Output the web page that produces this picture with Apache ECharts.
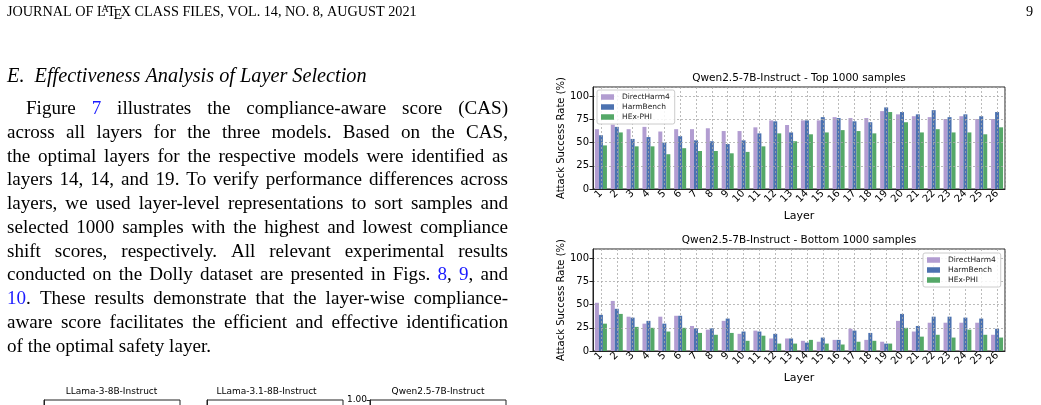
<!DOCTYPE html>
<html>
<head>
<meta charset="utf-8">
<script src="https://cdn.jsdelivr.net/npm/echarts@6/dist/echarts.min.js"></script>
<style>
html, body { margin: 0; padding: 0; background: #fff; }
#main { width: 1041px; height: 405px; }
</style>
</head>
<body>
<div id="main"></div>
<script>
// layers on the x axis
var layers = ['1','2','3','4','5','6','7','8','9','10','11','12','13',
              '14','15','16','17','18','19','20','21','22','23','24','25','26'];
var seriesNames = ['DirectHarm4', 'HarmBench', 'HEx-PHI'];
var yTicks = [0, 25, 50, 75, 100];

// Top 1000 samples (ASR %)
var topDirectHarm = [64.5,69.5,64.5,67,62,64.5,64.5,65.5,62.5,62.5,66.5,74,69,74,74,77.5,76.5,76.5,84,80.5,78.5,77.5,75.5,78.5,75.5,75.5];
var topHarmBench  = [58,67,54,56,50,57,52.5,51.5,48.5,52.5,60,73,61,74,77.5,76.5,73,72,88,83,80.5,85,77.5,80.5,78.5,83];
var topHexPhi     = [47,61,46,46,37.5,44,41,41,38.5,40,46,60,51.5,59,61,63.5,62.5,60,83,72,61,64.5,61,61,59,66.5];

// Bottom 1000 samples (ASR %)
var botDirectHarm = [52,54,37,29.5,37,38,27,23,32.5,18.5,22,13.5,13.5,11,10,12,24,12,10,32.5,21,30.5,30.5,30.5,30.5,17.5];
var botHarmBench  = [39,45.5,36,32.5,29.5,38,24.5,24.5,35,21,21,18.5,13.5,9,14.5,12,22,19.5,8,40,27,37,37,36,35,24];
var botHexPhi     = [29.5,40,26,25,21,25,19.5,17.5,19.5,11,16.5,8,8,12,8,7,10,11,8,25,15.5,17.5,14.5,23,17.5,14.5];

var bodyLines = [
  'Figure [7] illustrates the compliance-aware score (CAS)',
  'across all layers for the three models. Based on the CAS,',
  'the optimal layers for the respective models were identified as',
  'layers 14, 14, and 19. To verify performance differences across',
  'layers, we used layer-level representations to sort samples and',
  'selected 1000 samples with the highest and lowest compliance',
  'shift scores, respectively. All relevant experimental results',
  'conducted on the Dolly dataset are presented in Figs. [8], [9], and',
  '[10]. These results demonstrate that the layer-wise compliance-',
  'aware score facilitates the efficient and effective identification',
  'of the optimal safety layer.'
];
var sectionTitle = 'E.  Effectiveness Analysis of Layer Selection';
var smallTitles = ['LLama-3-8B-Instruct', 'LLama-3.1-8B-Instruct', 'Qwen2.5-7B-Instruct'];

var colors = ['#b29dd1', '#4c72b0', '#55a868'];
var sans = 'DejaVu Sans';
var serif = 'Liberation Serif';
var gridLine = { show: true, lineStyle: { color: '#aaa', width: 0.8, type: [2, 2] } };

var ctx = document.createElement('canvas').getContext('2d');
function measure(t, size, style) {
    ctx.font = (style || 'normal') + ' ' + size + 'px "' + serif + '"';
    return ctx.measureText(t).width;
}
function plain(w) { return w.replace(/\[|\]/g, ''); }
function txt(x, y, text, st) {
    return {
        type: 'text', x: x, y: y, silent: true, z: 20,
        style: Object.assign({ text: text, fill: '#000', fontFamily: sans, fontSize: 10,
            align: 'left', verticalAlign: 'middle' }, st || {})
    };
}

var graphics = [];

// page header with a LaTeX logo
var hs = 16;
var h1 = 'JOURNAL OF L', h2 = 'X CLASS FILES, VOL. 14, NO. 8, AUGUST 2021';
var hw = measure(h1, hs) - 0.3 * hs + measure('A', hs * 0.7) - 0.12 * hs + measure('T', hs)
         - 0.15 * hs + measure('E', hs) - 0.1 * hs + measure(h2, hs);
hs = hs * 410 / hw;
var hx = 7, hy = 12;
var hst = { fontFamily: serif, fontSize: hs };
graphics.push(txt(hx, hy, h1, hst));
hx += measure(h1, hs) - 0.3 * hs;
graphics.push(txt(hx, hy - hs * 0.15, 'A', { fontFamily: serif, fontSize: hs * 0.7 }));
hx += measure('A', hs * 0.7) - 0.12 * hs;
graphics.push(txt(hx, hy, 'T', hst));
hx += measure('T', hs) - 0.15 * hs;
graphics.push(txt(hx, hy + hs * 0.22, 'E', hst));
hx += measure('E', hs) - 0.1 * hs;
graphics.push(txt(hx, hy, h2, hst));
graphics.push(txt(1033, hy, '9', { fontFamily: serif, fontSize: hs, align: 'right' }));

// section heading
var secSize = 20 * 360 / measure(sectionTitle, 20, 'italic');
graphics.push(txt(7, 77, sectionTitle, { fontFamily: serif, fontSize: secSize, fontStyle: 'italic' }));

// justified body text: largest size where every line still fits with normal spaces
var bodySize = 20 * 220 / measure(bodyLines[10], 20);
bodyLines.forEach(function (line, i) {
    if (i === bodyLines.length - 1) return;
    var avail = 508 - (i === 0 ? 26 : 7);
    var natural = measure(plain(line), 20) * 1.04;
    bodySize = Math.min(bodySize, 20 * avail / natural);
});
bodyLines.forEach(function (line, i) {
    var y = 109 + i * 23.77;
    var x = i === 0 ? 26 : 7;
    var words = line.split(' ');
    var widths = words.map(function (w) { return measure(plain(w), bodySize); });
    var sum = widths.reduce(function (a, b) { return a + b; }, 0);
    var gap = i === bodyLines.length - 1 ? measure(' ', bodySize) : (508 - x - sum) / (words.length - 1);
    words.forEach(function (w, k) {
        graphics.push(txt(x, y, w.replace(/\[([^\]]+)\]/g, '{lnk|$1}'), {
            fontFamily: serif, fontSize: bodySize,
            rich: { lnk: { fill: '#1a1aff', fontFamily: serif, fontSize: bodySize } }
        }));
        x += widths[k] + gap;
    });
});

// chart titles
graphics.push(txt(799, 78, 'Qwen2.5-7B-Instruct - Top 1000 samples', { fontSize: 10.5, align: 'center' }));
graphics.push(txt(799, 240, 'Qwen2.5-7B-Instruct - Bottom 1000 samples', { fontSize: 10.5, align: 'center' }));
[111.5, 266.5, 438].forEach(function (cx, i) {
    graphics.push(txt(cx, 392, smallTitles[i], { fontSize: 9, align: 'center' }));
});

var halfSlots = [];
layers.forEach(function (l) { halfSlots.push(l + 'a', l + 'b'); });

function catAxis(gi) {
    return {
        type: 'category', gridIndex: gi, data: layers, boundaryGap: true, z: 5,
        axisLine: { lineStyle: { color: '#222', width: 1 } },
        axisTick: { alignWithLabel: true, length: 3.5, lineStyle: { color: '#222' } },
        axisLabel: { rotate: 45, interval: 0, fontSize: 10, fontFamily: sans, color: '#000', margin: 3 },
        splitLine: { show: false },
        name: 'Layer', nameLocation: 'middle', nameGap: 22,
        nameTextStyle: { fontSize: 11, fontFamily: sans, color: '#000' }
    };
}
function centerLines(gi) {
    return {
        type: 'category', gridIndex: gi, data: halfSlots, boundaryGap: true, z: 5,
        axisLine: { show: false }, axisTick: { show: false }, axisLabel: { show: false },
        splitLine: { show: true, interval: function (idx) { return idx % 2 === 1; },
            lineStyle: gridLine.lineStyle }
    };
}
function valAxis(gi) {
    return {
        type: 'value', gridIndex: gi, min: 0, max: 110, interval: 25, z: 5,
        axisLine: { show: true, lineStyle: { color: '#222', width: 1 } },
        axisTick: { show: true, length: 3.5, lineStyle: { color: '#222' } },
        axisLabel: { fontSize: 10, fontFamily: sans, color: '#000', margin: 4, showMaxLabel: false,
            formatter: function (v) { return yTicks.indexOf(v) >= 0 ? String(v) : ''; } },
        splitLine: gridLine,
        name: 'Attack Success Rate (%)', nameLocation: 'middle', nameGap: 26,
        nameTextStyle: { fontSize: 10, fontFamily: sans, color: '#000' }
    };
}
function boxAxes(gi, label) {
    return [{
        type: 'value', gridIndex: gi, min: 0, max: 1,
        axisLine: { show: false }, axisTick: { show: false }, axisLabel: { show: false }, splitLine: { show: false }
    }, {
        type: 'value', gridIndex: gi, min: 0, max: 1, interval: 1,
        axisLine: { show: true, lineStyle: { color: '#222' } },
        axisTick: { show: label, length: 3.5, lineStyle: { color: '#222' } },
        axisLabel: { show: label, fontSize: 9, fontFamily: sans, color: '#000', margin: 3,
            formatter: function (v) { return v === 1 ? '1.00' : ''; } },
        splitLine: { show: false }
    }];
}
function bars(name, data, color, xi, yi) {
    return {
        name: name, type: 'bar', xAxisIndex: xi, yAxisIndex: yi, data: data,
        barWidth: 4, barGap: '0%', itemStyle: { color: color }, emphasis: { disabled: true }
    };
}
function legendAt(left, top) {
    return {
        data: seriesNames, orient: 'vertical', left: left, top: top, icon: 'rect',
        itemWidth: 13, itemHeight: 5.5, itemGap: 2, padding: [3, 5, 3, 4],
        backgroundColor: 'rgba(255,255,255,0.85)', borderColor: '#ccc', borderWidth: 1, borderRadius: 2,
        textStyle: { fontSize: 7.5, fontFamily: sans, color: '#222', padding: [0, 0, 0, 3] }, z: 10
    };
}

var b1 = boxAxes(2, false), b2 = boxAxes(3, false), b3 = boxAxes(4, true);

var option = {
    animation: false,
    backgroundColor: '#fff',
    grid: [
        { left: 593, top: 87, width: 412, height: 102, show: true, borderColor: '#222', borderWidth: 1 },
        { left: 593, top: 249, width: 412, height: 102, show: true, borderColor: '#222', borderWidth: 1 },
        { left: 44, top: 400, width: 136, height: 80, show: true, borderColor: '#222', borderWidth: 1 },
        { left: 207, top: 400, width: 136, height: 80, show: true, borderColor: '#222', borderWidth: 1 },
        { left: 370, top: 400, width: 136, height: 80, show: true, borderColor: '#222', borderWidth: 1 }
    ],
    xAxis: [catAxis(0), centerLines(0), catAxis(1), centerLines(1), b1[0], b2[0], b3[0]],
    yAxis: [valAxis(0), valAxis(1), b1[1], b2[1], b3[1]],
    legend: [legendAt(597, 90), legendAt(923, 253)],
    graphic: graphics,
    series: [
        bars(seriesNames[0], topDirectHarm, colors[0], 0, 0),
        bars(seriesNames[1], topHarmBench, colors[1], 0, 0),
        bars(seriesNames[2], topHexPhi, colors[2], 0, 0),
        bars(seriesNames[0], botDirectHarm, colors[0], 2, 1),
        bars(seriesNames[1], botHarmBench, colors[1], 2, 1),
        bars(seriesNames[2], botHexPhi, colors[2], 2, 1)
    ]
};

var chart = echarts.init(document.getElementById('main'));
chart.setOption(option);
</script>
</body>
</html>
